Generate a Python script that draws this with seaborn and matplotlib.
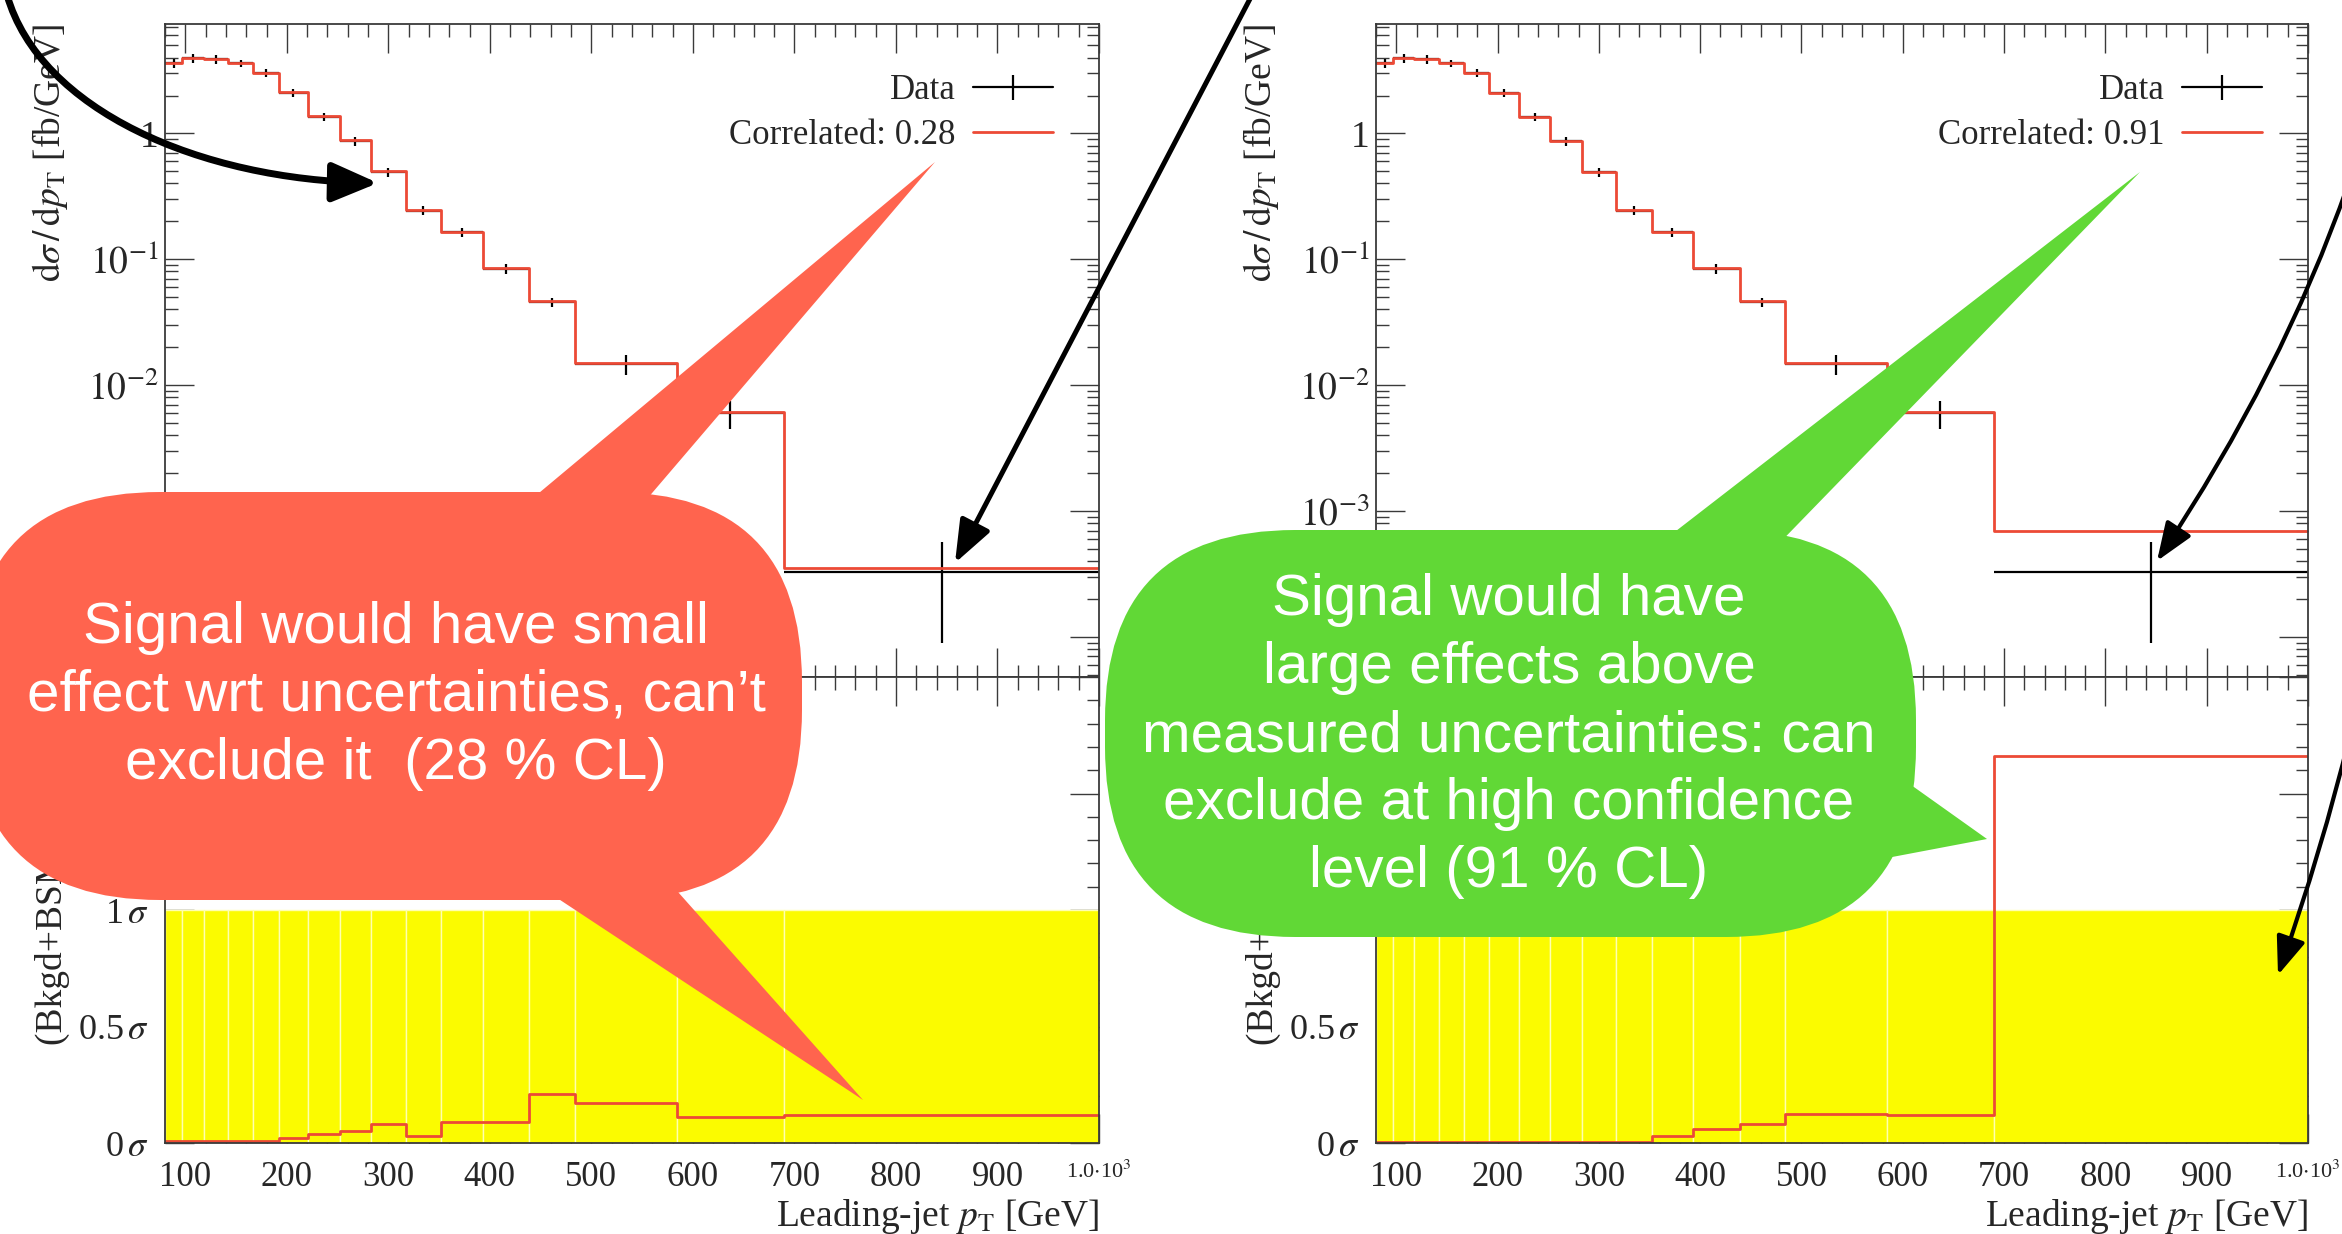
import numpy as np
import matplotlib
matplotlib.use("Agg")
import matplotlib.pyplot as plt
import seaborn as sns
from matplotlib.lines import Line2D
from matplotlib.patches import FancyArrowPatch, FancyBboxPatch, Polygon
from matplotlib.path import Path
from matplotlib.ticker import FixedFormatter, FixedLocator, LogLocator, MultipleLocator, NullFormatter
from matplotlib.transforms import IdentityTransform

# binning and values
bin_edges = [80, 97, 118, 142, 167, 192, 221, 252, 283, 317, 352, 393, 439, 484, 584, 690, 1000]
data_xsec = [3.62, 3.95, 3.88, 3.6, 3.02, 2.11, 1.36, 0.87, 0.49, 0.244, 0.164, 0.084, 0.0456, 0.0147, 0.006, 3.3e-4]
data_err = [0.3, 0.3, 0.3, 0.25, 0.2, 0.15, 0.1, 0.07, 0.04, 0.02, 0.014, 0.007, 0.004, 0.0027, 0.0015, 2.4e-4]
pred_xsec_low = [3.62, 3.96, 3.89, 3.6, 3.03, 2.12, 1.37, 0.88, 0.50, 0.246, 0.166, 0.085, 0.0465, 0.0150, 0.0061, 3.5e-4]
pred_xsec_high = [3.62, 3.95, 3.88, 3.6, 3.02, 2.11, 1.36, 0.87, 0.49, 0.245, 0.165, 0.085, 0.0462, 0.0150, 0.0061, 7.0e-4]
sig_low = [0.01, 0.01, 0.01, 0.01, 0.01, 0.02, 0.04, 0.05, 0.08, 0.03, 0.09, 0.09, 0.21, 0.17, 0.11, 0.12]
sig_high = [0.005, 0.005, 0.005, 0.005, 0.005, 0.005, 0.005, 0.005, 0.005, 0.005, 0.03, 0.06, 0.08, 0.125, 0.12, 1.66]
band_sigma = [1.0, 1.0, 1.0, 1.0, 1.0, 1.0, 1.0, 1.0, 1.0, 1.0, 1.0, 1.0, 1.0, 1.0, 1.0, 1.0]
cl_labels = ["Correlated: 0.28", "Correlated: 0.91"]

x_ticks = [100, 200, 300, 400, 500, 600, 700, 800, 900, 1000]
x_tick_labels = ["100", "200", "300", "400", "500", "600", "700", "800", "900", r"1.0$\cdot$10$^3$"]
y_ticks_top = [1e-4, 1e-3, 1e-2, 1e-1, 1]
y_tick_labels_top = ["", r"$10^{-3}$", r"$10^{-2}$", r"$10^{-1}$", "1"]
y_ticks_ratio = [0, 0.5, 1, 1.5, 2]
y_tick_labels_ratio = [r"0$\,\sigma$", r"0.5$\,\sigma$", r"1$\,\sigma$", "", ""]

bubble_red_text = "Signal would have small\neffect wrt uncertainties, can’t\nexclude it  (28 % CL)"
bubble_green_text = ("Signal would have\nlarge effects above\nmeasured uncertainties: can\n"
                     "exclude at high confidence\nlevel (91 % CL)")

RED = "#ec4a36"
YELLOW = "#fbfb00"
BUBBLE_RED = "#ff644e"
BUBBLE_GREEN = "#61d836"

sns.set_style("ticks")
plt.rcParams["font.family"] = ["Liberation Serif", "DejaVu Serif"]
plt.rcParams["mathtext.fontset"] = "stix"
plt.rcParams["axes.edgecolor"] = "#3a3a3a"
plt.rcParams["axes.linewidth"] = 1.3

W, H = 2342, 1234
fig = plt.figure(figsize=(W / 100, H / 100), dpi=100)


def rect(x0, y0, x1, y1):
    # image pixels (y down) -> figure fraction
    return [x0 / W, 1 - y1 / H, (x1 - x0) / W, (y1 - y0) / H]


def disp(x, y):
    return (x, H - y)


edges = np.array(bin_edges, dtype=float)
centers = 0.5 * (edges[:-1] + edges[1:])
FS = 24


def style_ticks(ax):
    ax.tick_params(which="both", direction="in", top=True, right=True,
                   color="#3a3a3a", width=1.0, labelsize=FS)
    ax.tick_params(which="major", length=21)
    ax.tick_params(which="minor", length=9)


def draw_panel(left, right, pred, sig, label):
    ax = fig.add_axes(rect(left, 24, right, 677))
    axr = fig.add_axes(rect(left, 677, right, 1143))

    ax.errorbar(centers, data_xsec,
                xerr=[centers - edges[:-1], edges[1:] - centers],
                yerr=data_err, fmt="none", ecolor="black",
                elinewidth=1.6, capsize=0, zorder=2)
    sns.histplot(x=centers, weights=pred, bins=bin_edges, element="step",
                 fill=False, color=RED, linewidth=2.0, ax=ax, zorder=3)
    ax.set_yscale("log")
    ax.set_xlim(80, 1000)
    ax.set_ylim(4.8e-5, 7.4)
    ax.yaxis.set_major_locator(FixedLocator(y_ticks_top))
    ax.yaxis.set_major_formatter(FixedFormatter(y_tick_labels_top))
    ax.yaxis.set_minor_locator(LogLocator(base=10, subs=np.arange(2, 10), numticks=40))
    ax.yaxis.set_minor_formatter(NullFormatter())
    ax.xaxis.set_major_locator(FixedLocator(x_ticks))
    ax.xaxis.set_minor_locator(MultipleLocator(20))
    ax.set_xticklabels([])
    style_ticks(ax)
    ax.tick_params(axis="y", pad=5, labelsize=27)
    ax.set_xlabel("")
    ax.set_ylabel(r"$\mathrm{d}\sigma\,/\,\mathrm{d}p_\mathrm{T}$ [fb/GeV]",
                  fontsize=27, loc="top")
    ax.yaxis.set_label_coords(-0.102, 1.0)

    handles = [Line2D([], [], color="black", lw=1.6, marker="|", markersize=18, markeredgewidth=1.6),
               Line2D([], [], color=RED, lw=2.0)]
    ax.legend(handles, ["Data", label], loc="upper right", frameon=False,
              markerfirst=False, fontsize=25, handlelength=2.3,
              handletextpad=0.5, labelspacing=0.35, borderaxespad=0,
              bbox_to_anchor=(1 - 32 / 934, 1 - 36 / 652))

    sns.histplot(x=centers, weights=band_sigma, bins=bin_edges, element="bars",
                 color=YELLOW, edgecolor="#ffffb0", linewidth=1.0, alpha=1.0,
                 ax=axr, zorder=1)
    sns.histplot(x=centers, weights=sig, bins=bin_edges, element="step",
                 fill=False, color=RED, linewidth=2.0, ax=axr, zorder=3)
    axr.set_xlim(80, 1000)
    axr.set_ylim(0, 2)
    axr.yaxis.set_major_locator(FixedLocator(y_ticks_ratio))
    axr.yaxis.set_major_formatter(FixedFormatter(y_tick_labels_ratio))
    axr.yaxis.set_minor_locator(MultipleLocator(0.1))
    axr.xaxis.set_major_locator(FixedLocator(x_ticks))
    axr.xaxis.set_major_formatter(FixedFormatter(x_tick_labels))
    axr.xaxis.set_minor_locator(MultipleLocator(20))
    style_ticks(axr)
    axr.tick_params(axis="y", pad=12, labelsize=26)
    axr.tick_params(axis="x", pad=13, labelsize=25)
    axr.get_xticklabels()[-1].set_fontsize(16)
    axr.set_xlabel(r"Leading-jet $p_\mathrm{T}$ [GeV]", fontsize=27, loc="right", labelpad=2)
    axr.set_ylabel(r"(Bkgd+BSM) / Data", fontsize=27, loc="bottom")
    axr.yaxis.set_label_coords(-0.102, 0.21)
    for a in (ax, axr):
        for s in a.spines.values():
            s.set_zorder(5)


draw_panel(165, 1099, pred_xsec_low, sig_low, cl_labels[0])
draw_panel(1376, 2308, pred_xsec_high, sig_high, cl_labels[1])

# speech bubbles (image pixel coordinates, y down)
ident = IdentityTransform()


def bubble(x0, y0, x1, y1, color, tails, text, cx, cy):
    body = FancyBboxPatch(disp(x0, y1), x1 - x0, y1 - y0,
                          boxstyle="round,pad=0,rounding_size=190",
                          transform=ident, facecolor=color, edgecolor="none", zorder=10)
    fig.add_artist(body)
    for tri in tails:
        fig.add_artist(Polygon([disp(*p) for p in tri], closed=True, transform=ident,
                               facecolor=color, edgecolor="none", zorder=10))
    fig.text(cx / W, 1 - cy / H, text, ha="center", va="center", color="white",
             fontsize=42, linespacing=1.33, family=["Liberation Sans", "DejaVu Sans"],
             zorder=11)


bubble(-30, 492, 802, 900, BUBBLE_RED,
       [[(935, 162), (521, 508), (635, 513)], [(863, 1100), (545, 890), (662, 874)]],
       bubble_red_text, 396, 696)
bubble(1105, 530, 1916, 937, BUBBLE_GREEN,
       [[(2140, 172), (1654, 548), (1764, 559)], [(1987, 839), (1890, 770), (1850, 865)]],
       bubble_green_text, 1509, 736)


def arrow(points, codes, lw, hl, hw, ms):
    path = Path([disp(*p) for p in points], codes)
    fig.add_artist(FancyArrowPatch(path=path, transform=ident,
                                   arrowstyle=f"-|>,head_length={hl},head_width={hw}",
                                   mutation_scale=ms, lw=lw, color="black",
                                   shrinkA=0, shrinkB=0, zorder=12))


C4 = Path.CURVE4
C3 = Path.CURVE3
arrow([(7, -5), (40, 110), (200, 180), (378, 183)], [Path.MOVETO, C4, C4, C4], 5.0, 1.4, 0.6, 20)
arrow([(1252, -5), (955, 563)], [Path.MOVETO, Path.LINETO], 3.6, 1.3, 0.5, 20)
arrow([(2348, 185), (2282, 373), (2157, 561)], [Path.MOVETO, C3, C3], 3.0, 1.3, 0.5, 18)
arrow([(2350, 735), (2322, 850), (2278, 975)], [Path.MOVETO, C3, C3], 3.0, 1.3, 0.5, 18)

fig.savefig("out.png", dpi=100)
